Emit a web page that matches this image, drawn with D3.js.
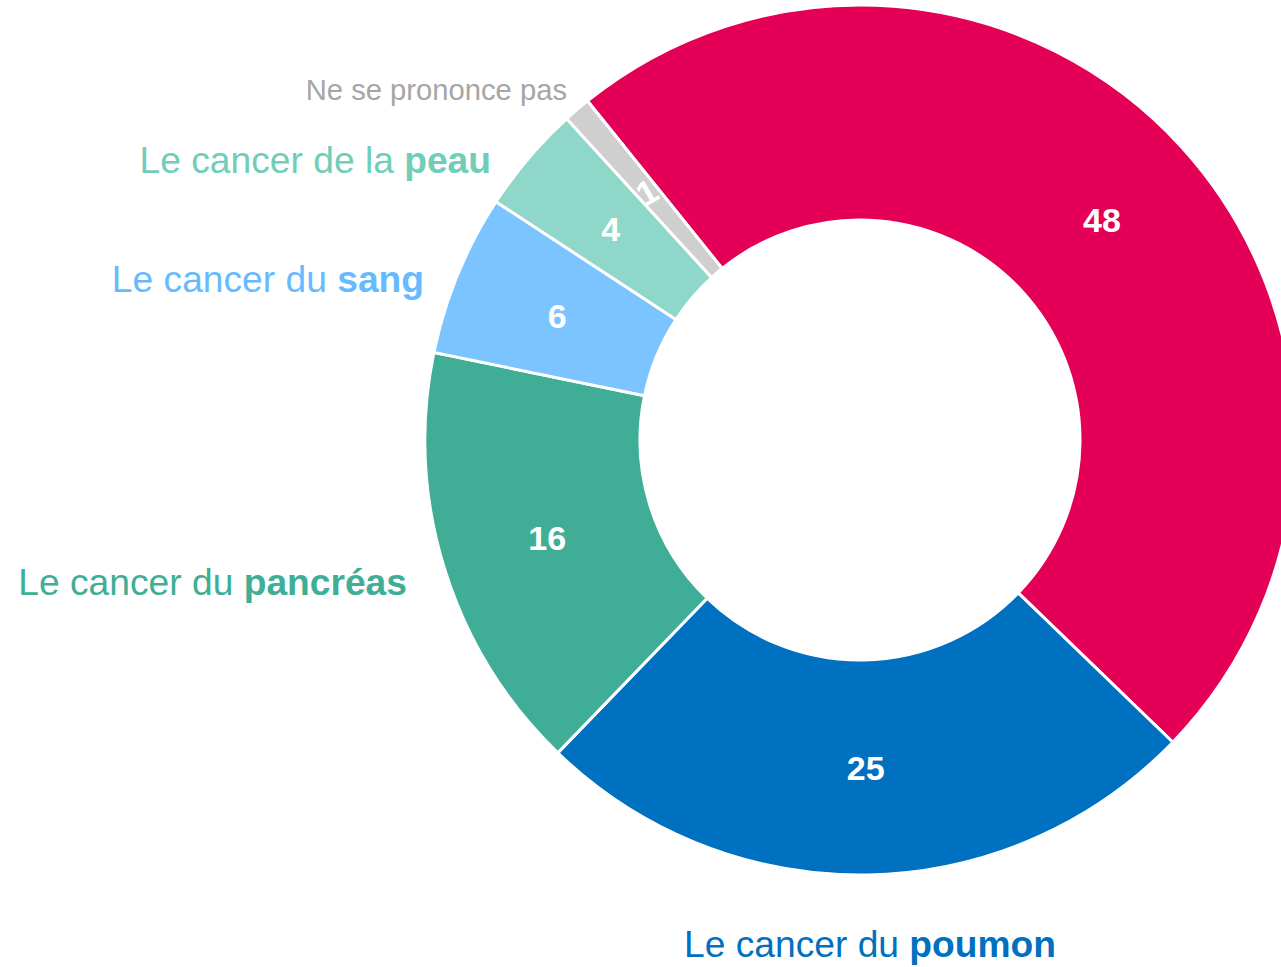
<!DOCTYPE html>
<html>
<head>
<meta charset="utf-8">
<script src="https://d3js.org/d3.v7.min.js"></script>
<style>
  body { margin: 0; background: #fff; }
  svg { display: block; font-family: "Liberation Sans", Arial, sans-serif; }
</style>
</head>
<body>
<script>
// data, clockwise from the crimson slice
var categories = ["Autre", "poumon", "pancréas", "sang", "peau", "Ne se prononce pas"];
var values     = [48, 25, 16, 6, 4, 1];
var prefixes   = ["", "Le cancer du ", "Le cancer du ", "Le cancer du ", "Le cancer de la ", ""];
var colors     = ["#E40057", "#0070C0", "#40AE96", "#7BC4FF", "#8FD7C8", "#D0CFD0"];
var textColors = ["#E40057", "#0070C0", "#40AE96", "#66BBFF", "#70CDB8", "#A6A6A6"];

var width = 1281, height = 967;
var cx = 860, cy = 440;
var outerR = 435, innerR = 220;

var svg = d3.select("body")
    .append("svg")
    .attr("width", width)
    .attr("height", height);

var g = svg.append("g")
    .attr("transform", "translate(" + cx + "," + cy + ")");

var start = -0.677;
var pie = d3.pie()
    .sort(null)
    .startAngle(start)
    .endAngle(start + 2 * Math.PI);

var arc = d3.arc()
    .innerRadius(innerR)
    .outerRadius(outerR);

var arcs = pie(values);

g.selectAll("path")
    .data(arcs)
    .enter()
    .append("path")
    .attr("d", arc)
    .attr("fill", (d, i) => colors[i])
    .attr("stroke", "#fff")
    .attr("stroke-width", 3);

// values inside the slices
g.selectAll("text.val")
    .data(arcs)
    .enter()
    .append("text")
    .attr("class", "val")
    .attr("transform", function(d, i) {
        var c = arc.centroid(d);
        var rot = i === 5 ? " rotate(-30)" : "";
        return "translate(" + c[0] + "," + (c[1] + 1) + ")" + rot;
    })
    .attr("text-anchor", "middle")
    .attr("dy", "0.35em")
    .attr("fill", "#fff")
    .attr("font-weight", "bold")
    .attr("font-size", 34)
    .text(d => d.data);

// outside labels: [index, x, y, anchor]
var labelPos = [
    [1, 870, 957, "middle"],
    [2, 407, 595, "end"],
    [3, 424, 292, "end"],
    [4, 491, 173, "end"]
];

labelPos.forEach(function(p) {
    var i = p[0];
    var t = svg.append("text")
        .attr("x", p[1])
        .attr("y", p[2])
        .attr("text-anchor", p[3])
        .attr("font-size", 37.2)
        .attr("fill", textColors[i]);
    t.append("tspan").text(prefixes[i]);
    t.append("tspan").attr("font-weight", "bold").text(categories[i]);
});

svg.append("text")
    .attr("x", 567)
    .attr("y", 100)
    .attr("text-anchor", "end")
    .attr("font-size", 29.2)
    .attr("fill", textColors[5])
    .text(categories[5]);
</script>
</body>
</html>
